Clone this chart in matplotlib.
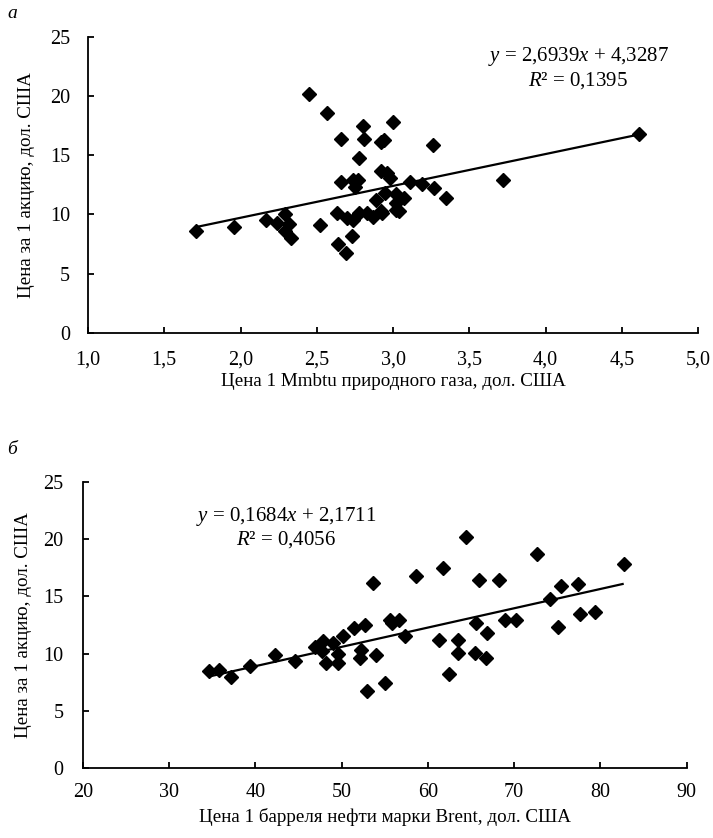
import matplotlib
matplotlib.use("Agg")
import matplotlib.pyplot as plt
import numpy as np

plt.rcParams['font.family'] = ['Liberation Serif', 'DejaVu Serif']
plt.rcParams['mathtext.fontset'] = 'custom'
plt.rcParams['mathtext.rm'] = 'Liberation Serif'
plt.rcParams['mathtext.it'] = 'Liberation Serif:italic'

# ---- Data: panel a (natural gas) ----
gas_x = [1.71, 1.96, 2.17, 2.24, 2.29, 2.32, 2.29, 2.33, 2.45, 2.57, 2.52, 2.66,
         2.66, 2.63, 2.64, 2.69, 2.73, 2.80, 2.81, 2.78, 2.74, 2.77, 2.75, 2.70,
         2.74, 2.78, 2.83, 2.87, 2.92, 2.94, 3.00, 2.92, 2.98, 2.96, 2.89, 2.93,
         2.95, 3.02, 3.26, 4.61, 3.72, 3.11, 3.19, 3.27, 3.35, 3.02, 3.07, 3.02,
         3.04, 2.92]
gas_y = [8.6, 8.9, 9.5, 9.3, 10.0, 9.2, 8.6, 8.0, 20.2, 18.6, 9.1, 16.4,
         12.7, 10.1, 7.5, 6.7, 8.2, 17.5, 16.4, 14.8, 12.9, 12.9, 12.3, 9.7,
         9.5, 10.1, 10.1, 9.8, 16.1, 16.3, 17.8, 13.7, 13.1, 13.5, 11.2, 10.1,
         11.8, 10.4, 15.9, 16.8, 12.9, 12.7, 12.6, 12.2, 11.4, 11.7, 11.4, 11.0,
         10.3, 10.3]
gas_slope, gas_intercept = 2.6939, 4.3287
gas_eq = ["$y$ = 2,6939$x$ + 4,3287", "$R$² = 0,1395"]

# ---- Data: panel b (Brent oil) ----
oil_x = [34.65, 35.8, 37.2, 39.4, 42.3, 44.6, 46.9, 47.9, 47.7, 48.2, 49.0, 49.6,
         49.6, 50.2, 51.5, 52.7, 52.3, 52.1, 54.0, 53.6, 52.9, 55.0, 55.6, 55.8,
         56.7, 57.4, 58.6, 61.3, 61.7, 62.4, 63.5, 63.5, 64.4, 65.6, 65.5, 65.9,
         66.8, 66.7, 68.3, 69.0, 70.2, 72.7, 74.2, 75.1, 75.4, 77.4, 77.6, 79.4,
         82.7]
oil_y = [8.5, 8.6, 8.0, 8.9, 9.9, 9.4, 10.6, 11.1, 10.2, 9.2, 10.9, 9.2,
         10.0, 11.5, 12.2, 12.5, 10.3, 9.6, 9.9, 16.2, 6.7, 7.4, 12.9, 12.7,
         12.9, 11.5, 16.8, 11.2, 17.5, 8.2, 11.2, 10.1, 20.2, 12.7, 10.1, 16.4,
         11.8, 9.6, 16.4, 12.9, 12.9, 18.7, 14.8, 12.3, 15.9, 16.1, 13.5, 13.6,
         17.8]
oil_slope, oil_intercept = 0.1684, 2.1711
oil_eq = ["$y$ = 0,1684$x$ + 2,1711", "$R$² = 0,4056"]

y_label = "Цена за 1 акцию, дол. США"
gas_xlabel = "Цена 1 Mmbtu природного газа, дол. США"
oil_xlabel = "Цена 1 барреля нефти марки Brent, дол. США"
gas_xticks = [1.0, 1.5, 2.0, 2.5, 3.0, 3.5, 4.0, 4.5, 5.0]
oil_xticks = [20, 30, 40, 50, 60, 70, 80, 90]
y_ticks = [0, 5, 10, 15, 20, 25]

W, H = 713, 838
fig = plt.figure(figsize=(W / 100, H / 100), dpi=100)

def px_axes(l, t, r, b):
    return fig.add_axes([l / W, 1 - b / H, (r - l) / W, (b - t) / H])

ax1 = px_axes(88, 37, 698, 332.7)
ax2 = px_axes(82.7, 481.7, 686.7, 768.3)

def style(ax, xticks, xlim, xfmt, xpad, ypad):
    ax.set_xlim(*xlim)
    ax.set_ylim(0, 25)
    ax.set_xticks(xticks)
    ax.set_xticklabels([xfmt(v) for v in xticks])
    ax.set_yticks(y_ticks)
    ax.set_yticklabels([str(v) for v in y_ticks])
    for s in ['top', 'right']:
        ax.spines[s].set_visible(False)
    for s in ['left', 'bottom']:
        ax.spines[s].set_linewidth(1.3)
    ax.tick_params(axis='both', direction='in', length=4.5, width=1.3, labelsize=14.5)
    ax.tick_params(axis='x', pad=xpad)
    ax.tick_params(axis='y', pad=ypad)

def scatter_trend(ax, x, y, k, b):
    x = np.asarray(x); y = np.asarray(y)
    xs = np.array([x.min(), x.max()])
    ax.plot(xs, k * xs + b, color='black', lw=1.6, zorder=2, solid_capstyle='butt')
    ax.plot(x, y, linestyle='none', marker='D', ms=7.2, color='black', zorder=3,
            clip_on=False)

scatter_trend(ax1, gas_x, gas_y, gas_slope, gas_intercept)
scatter_trend(ax2, oil_x, oil_y, oil_slope, oil_intercept)

style(ax1, gas_xticks, (1.0, 5.0), lambda v: f"{v:.1f}".replace('.', ','), 12.5, 13)
style(ax2, oil_xticks, (20, 90), lambda v: f"{v:d}", 10.5, 14)

ax1.set_ylabel(y_label, fontsize=13.7, va='center')
ax1.yaxis.set_label_coords((27 - 88) / 610, 0.5)
ax1.set_xlabel(gas_xlabel, fontsize=13.7, va='center')
ax1.xaxis.set_label_coords(0.5, (332.7 - 381) / 295.7)

ax2.set_ylabel(y_label, fontsize=13.7, va='center')
ax2.yaxis.set_label_coords((23 - 82.7) / 604, 0.5)
ax2.set_xlabel(oil_xlabel, fontsize=13.7, va='center')
ax2.xaxis.set_label_coords(0.5, (768.3 - 817) / 286.6)

# equations
fig.text(578 / W, 1 - 57 / H, gas_eq[0], ha='center', va='center', fontsize=15)
fig.text(578 / W, 1 - 81 / H, gas_eq[1], ha='center', va='center', fontsize=15)
fig.text(286 / W, 1 - 516 / H, oil_eq[0], ha='center', va='center', fontsize=15)
fig.text(286 / W, 1 - 540 / H, oil_eq[1], ha='center', va='center', fontsize=15)

# panel letters
fig.text(12 / W, 1 - 14 / H, "а", ha='center', va='center', fontsize=14, style='italic')
fig.text(12 / W, 1 - 449 / H, "б", ha='center', va='center', fontsize=14, style='italic')

fig.savefig("out.png", dpi=100)
